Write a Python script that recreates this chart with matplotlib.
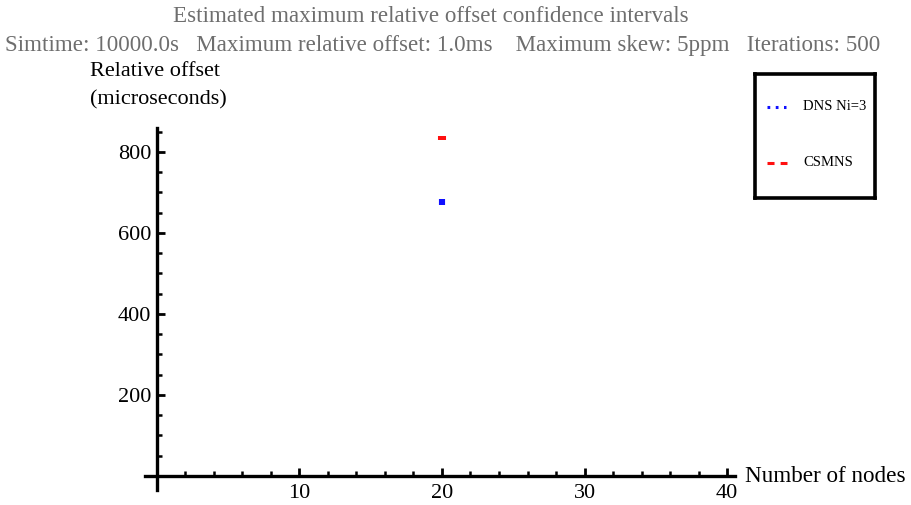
import matplotlib
matplotlib.use("Agg")
import matplotlib.pyplot as plt
from matplotlib.ticker import MultipleLocator

plt.rcParams['font.family'] = ['Liberation Serif', 'DejaVu Serif']

# Confidence intervals of the estimated maximum relative offset (microseconds)
series_names = ["DNS Ni=3", "CSMNS"]
series_colors = ["#1010ff", "#ff1010"]
nodes = [20, 20]
ci_low = [669, 830]
ci_high = [684, 839]
bar_widths = [4.4, 5.8]

W, H, DPI = 911, 505, 100
fig = plt.figure(figsize=(W / DPI, H / DPI), dpi=DPI)

# axes placed so the origin sits where the two axis lines cross
left_px, right_px, top_px, bot_px = 145, 735, 128, 490
ax = fig.add_axes([left_px / W, (H - bot_px) / H,
                   (right_px - left_px) / W, (bot_px - top_px) / H])
ax.set_xlim(-0.84, 40.56)
ax.set_ylim(-34.6, 859)

for x, lo, hi, c, w in zip(nodes, ci_low, ci_high, series_colors, bar_widths):
    ax.plot([x, x], [lo, hi], color=c, lw=w, solid_capstyle='butt')

for side in ("top", "right"):
    ax.spines[side].set_visible(False)
ax.spines["left"].set_position(("data", 0))
ax.spines["bottom"].set_position(("data", 0))
ax.spines["left"].set_linewidth(2.4)
ax.spines["bottom"].set_linewidth(2.4)

ax.xaxis.set_major_locator(MultipleLocator(10))
ax.xaxis.set_minor_locator(MultipleLocator(2))
ax.yaxis.set_major_locator(MultipleLocator(200))
ax.yaxis.set_minor_locator(MultipleLocator(50))
ax.set_xticks([10, 20, 30, 40])
ax.set_yticks([200, 400, 600, 800])
ax.tick_params(axis="both", which="major", direction="in", length=6, width=2,
               labelsize=16)
ax.tick_params(axis="both", which="minor", direction="in", length=3.5, width=1.8)
ax.tick_params(axis="x", which="major", pad=6)
ax.tick_params(axis="y", which="major", pad=4)

fig.text(745 / W, 1 - 476 / H, "Number of nodes", fontsize=16.7,
         ha="left", va="center")
fig.text(90 / W, 1 - 71 / H, "Relative offset", fontsize=16,
         ha="left", va="center")
fig.text(90 / W, 1 - 100 / H, "(microseconds)", fontsize=16,
         ha="left", va="center")

gray = "#6e6e6e"
fig.text(431 / W, 1 - 17 / H,
         "Estimated maximum relative offset confidence intervals",
         fontsize=16.6, color=gray, ha="center", va="center")
fig.text(443 / W, 1 - 46 / H,
         "Simtime: 10000.0s   Maximum relative offset: 1.0ms    "
         "Maximum skew: 5ppm   Iterations: 500",
         fontsize=16.6, color=gray, ha="center", va="center")

# legend panel
lx0, lx1, ly0, ly1 = 755, 875, 74, 198
lax = fig.add_axes([lx0 / W, (H - ly1) / H, (lx1 - lx0) / W, (ly1 - ly0) / H])
lax.set_xlim(lx0, lx1)
lax.set_ylim(ly1, ly0)
lax.set_xticks([])
lax.set_yticks([])
for s in lax.spines.values():
    s.set_linewidth(2.6)
lax.plot([767, 786], [107, 107], color=series_colors[0], lw=2.2,
         linestyle=(0, (0.9, 1.8)))
lax.plot([767, 787], [163, 163], color=series_colors[1], lw=2.2,
         linestyle=(0, (2.3, 2.0)))
lax.text(803, 106, series_names[0], fontsize=10.5, va="center", ha="left")
lax.text(803, 163, series_names[1], fontsize=10.5, va="center", ha="left")

fig.savefig("out.png", dpi=DPI)
